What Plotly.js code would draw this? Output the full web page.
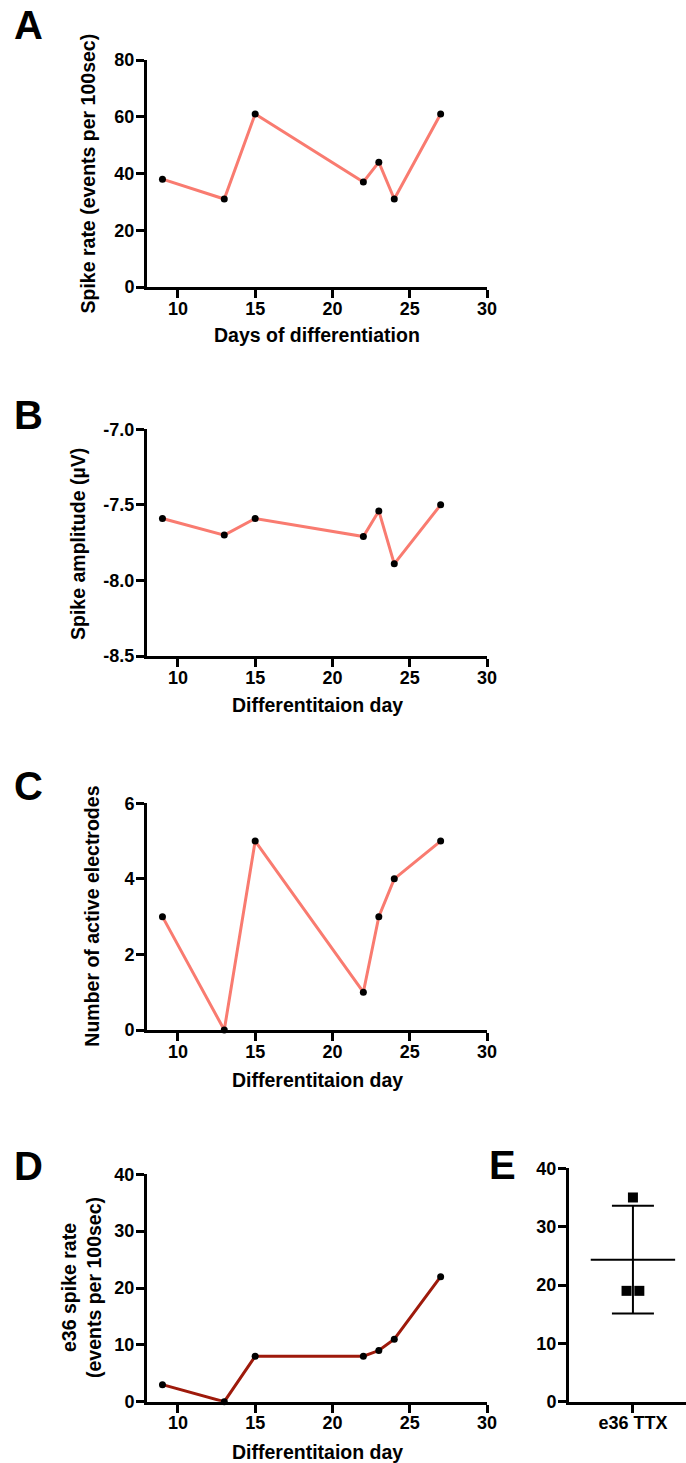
<!DOCTYPE html>
<html>
<head>
<meta charset="utf-8">
<script src="https://cdn.plot.ly/plotly-3.0.1.min.js"></script>
<style>html,body{margin:0;padding:0;background:#fff;}#chart{width:686px;height:1463px;}</style>
</head>
<body>
<div id="chart"></div>
<script>
// ---- data ----
const days = [9, 13, 15, 22, 23, 24, 27];
const spikeRate = [38, 31, 61, 37, 44, 31, 61];
const spikeAmplitude = [-7.59, -7.70, -7.59, -7.71, -7.54, -7.89, -7.50];
const activeElectrodes = [3, 0, 5, 1, 3, 4, 5];
const e36SpikeRate = [3, 0, 8, 8, 9, 11, 22];
const ttxValues = [35, 19, 19];
const ttxJitter = [0, -0.1, 0.1];
const dayTicks = [10, 15, 20, 25, 30];
const ampTickVals = [-7.0, -7.5, -8.0, -8.5];
const ampTickText = ['-7.0', '-7.5', '-8.0', '-8.5'];
const ttxCategory = ['e36 TTX'];

// ---- helpers ----
const W = 686, H = 1463;
const px = v => v / W;
const py = v => 1 - v / H;
const FONT = 'Liberation Sans, Arial, Helvetica, sans-serif';
const tickFont = {family: FONT, size: 18, weight: 'bold', color: '#000'};
const salmon = '#F97B70';
const darkRed = '#9E1A0B';

function axisBase(extra) {
  return Object.assign({
    showline: true, linewidth: 3, linecolor: '#000',
    ticks: 'outside', ticklen: 8, tickwidth: 3, tickcolor: '#000',
    ticklabelstandoff: -2,
    showgrid: false, zeroline: false, tickfont: tickFont, fixedrange: true
  }, extra);
}

// panel pixel boxes [left, right, top, bottom]
const boxes = {
  A: [147, 487, 60, 287],
  B: [147, 487, 429.3, 656],
  C: [147, 487, 803.3, 1030],
  D: [147, 487, 1174.3, 1401.7],
  E: [569, 686, 1168.3, 1401.7]
};

const lineTrace = (y, xa, ya, color) => ({
  x: days, y: y, xaxis: xa, yaxis: ya, type: 'scatter', mode: 'lines+markers',
  line: {color: color, width: 3}, marker: {color: '#000', size: 7},
  cliponaxis: false, showlegend: false, hoverinfo: 'x+y'
});

const mean = ttxValues.reduce((a, b) => a + b, 0) / ttxValues.length;
const sd = Math.sqrt(ttxValues.reduce((a, b) => a + (b - mean) ** 2, 0) / (ttxValues.length - 1));

const traces = [
  lineTrace(spikeRate, 'x', 'y', salmon),
  lineTrace(spikeAmplitude, 'x2', 'y2', salmon),
  lineTrace(activeElectrodes, 'x3', 'y3', salmon),
  lineTrace(e36SpikeRate, 'x4', 'y4', darkRed),
  // E: individual points
  {x: ttxJitter, y: ttxValues, xaxis: 'x5', yaxis: 'y5', type: 'scatter', mode: 'markers',
   marker: {symbol: 'square', size: 10, color: '#000'}, cliponaxis: false, showlegend: false},
  // E: mean line
  {x: [-0.66, 0.66], y: [mean, mean], xaxis: 'x5', yaxis: 'y5', type: 'scatter', mode: 'lines',
   line: {color: '#000', width: 2}, cliponaxis: false, showlegend: false, hoverinfo: 'skip'},
  // E: SD error bar
  {x: [0], y: [mean], xaxis: 'x5', yaxis: 'y5', type: 'scatter', mode: 'markers',
   marker: {size: 1, color: 'rgba(0,0,0,0)'},
   error_y: {type: 'data', array: [sd], visible: true, color: '#000', thickness: 2, width: 21},
   cliponaxis: false, showlegend: false}
];

function xDom(b) { return [px(b[0]), px(b[1])]; }
function yDom(b) { return [py(b[3]), py(b[2])]; }

const dayAxis = (b, anchor) => axisBase({domain: xDom(b), anchor: anchor, range: [8, 30],
  tickvals: dayTicks, ticklabelstandoff: -5});

const layout = {
  width: W, height: H, margin: {l: 0, r: 0, t: 0, b: 0},
  paper_bgcolor: '#fff', plot_bgcolor: 'rgba(0,0,0,0)',
  showlegend: false,
  font: {family: FONT, color: '#000'},
  xaxis: dayAxis(boxes.A, 'y'),
  yaxis: axisBase({domain: yDom(boxes.A), anchor: 'x', range: [0, 80], tickvals: [0, 20, 40, 60, 80]}),
  xaxis2: dayAxis(boxes.B, 'y2'),
  yaxis2: axisBase({domain: yDom(boxes.B), anchor: 'x2', range: [-8.5, -7.0], tickvals: ampTickVals, ticktext: ampTickText}),
  xaxis3: dayAxis(boxes.C, 'y3'),
  yaxis3: axisBase({domain: yDom(boxes.C), anchor: 'x3', range: [0, 6], tickvals: [0, 2, 4, 6]}),
  xaxis4: dayAxis(boxes.D, 'y4'),
  yaxis4: axisBase({domain: yDom(boxes.D), anchor: 'x4', range: [0, 40], tickvals: [0, 10, 20, 30, 40]}),
  xaxis5: axisBase({domain: [px(569), 1], anchor: 'y5', range: [-1, 0.83], tickvals: [0], ticktext: ttxCategory, ticklabelstandoff: -5}),
  yaxis5: axisBase({domain: yDom(boxes.E), anchor: 'x5', range: [0, 40], tickvals: [0, 10, 20, 30, 40]}),
  annotations: []
};

const ann = (text, x, y, size, angle, extra) => Object.assign({
  text: text, xref: 'paper', yref: 'paper', x: px(x), y: py(y),
  xanchor: 'center', yanchor: 'middle', showarrow: false, textangle: angle || 0,
  font: {family: FONT, size: size, weight: 'bold', color: '#000'}
}, extra || {});

// panel letters
layout.annotations.push(ann('A', 29, 25, 40));
layout.annotations.push(ann('B', 29, 415, 40));
layout.annotations.push(ann('C', 29, 786, 40));
layout.annotations.push(ann('D', 29, 1166, 40));
layout.annotations.push(ann('E', 502, 1165, 40));
// x titles
layout.annotations.push(ann('Days of differentiation', 317, 335, 19.5));
layout.annotations.push(ann('Differentitaion day', 317, 705, 19.5));
layout.annotations.push(ann('Differentitaion day', 317, 1080, 19.5));
layout.annotations.push(ann('Differentitaion day', 317, 1452, 19.5));
// y titles
layout.annotations.push(ann('Spike rate (events per 100sec)', 88, 173.5, 19.5, -90));
layout.annotations.push(ann('Spike amplitude (\u00b5V)', 78, 544, 19.5, -90));
layout.annotations.push(ann('Number of active electrodes', 92, 916.7, 19.5, -90));
layout.annotations.push(ann('e36 spike rate<br>(events per 100sec)', 81, 1288, 19.5, -90));

Plotly.newPlot('chart', traces, layout, {staticPlot: true, displayModeBar: false});
</script>
</body>
</html>
